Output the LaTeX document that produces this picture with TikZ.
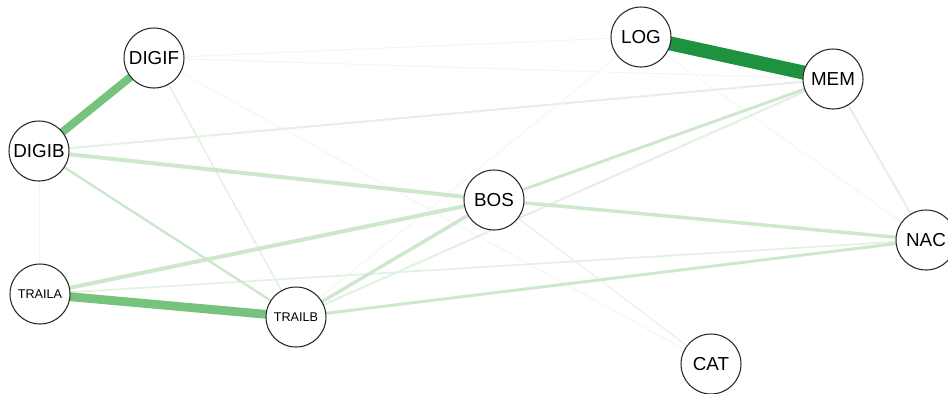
\documentclass[tikz,border=0pt]{standalone}
\usepackage{fontspec}
\setmainfont{Liberation Sans}
\usepackage{tikz}
\usetikzlibrary{backgrounds}

\definecolor{edgedark}{RGB}{31,146,64}
\definecolor{edgemid}{RGB}{118,195,126}
\definecolor{edgelight}{RGB}{206,232,206}
\definecolor{edgepale}{RGB}{226,241,226}
\definecolor{edgefaint}{RGB}{241,248,241}
\definecolor{edgeneg}{RGB}{244,232,236}

\begin{document}
\begin{tikzpicture}[
x=0.02cm, y=-0.02cm,
vertex/.style={circle, draw=black!85, line width=0.6pt, fill=white, minimum size=1.2cm, inner sep=0pt, font=\fontsize{10.7}{12}\selectfont},
smalltext/.style={font=\fontsize{7.2}{8}\selectfont},
strong/.style={edgedark, line width=8pt},
medium/.style={edgemid, line width=#1},
light/.style={edgelight, line width=#1},
pale/.style={edgepale, line width=#1},
faint/.style={edgefaint, line width=0.6pt},
neg/.style={edgeneg, line width=0.6pt}
]
\useasboundingbox (0,0) rectangle (948,393);

% nodes
\node[vertex] (digif) at (154,58) {DIGIF};
\node[vertex] (log) at (641,37) {LOG};
\node[vertex] (mem) at (833,79) {MEM};
\node[vertex] (digib) at (39,151) {DIGIB};
\node[vertex] (bos) at (494,200) {BOS};
\node[vertex] (nac) at (926,240) {NAC};
\node[vertex, smalltext] (traila) at (40,294) {TRAILA};
\node[vertex, smalltext] (trailb) at (296,317) {TRAILB};
\node[vertex] (cat) at (711,364) {CAT};

% edges
\begin{scope}[on background layer]
\draw[faint] (digif.center) -- (log.center);
\draw[faint] (digif.center) -- (mem.center);
\draw[faint] (digif.center) -- (cat.center);
\draw[faint] (log.center) -- (trailb.center);
\draw[faint] (log.center) -- (nac.center);
\draw[faint] (digib.center) -- (traila.center);
\draw[neg] (bos.center) -- (cat.center);
\draw[pale=0.85pt] (digif.center) -- (trailb.center);
\draw[pale=1pt] (traila.center) -- (nac.center);
\draw[pale=1.1pt] (digib.center) -- (mem.center);
\draw[pale=1.1pt] (mem.center) -- (nac.center);
\draw[pale=1.2pt] (trailb.center) -- (mem.center);
\draw[light=1.4pt] (digib.center) -- (trailb.center);
\draw[light=1.7pt] (trailb.center) -- (nac.center);
\draw[light=1.7pt] (bos.center) -- (mem.center);
\draw[light=2pt] (bos.center) -- (nac.center);
\draw[light=2pt] (trailb.center) -- (bos.center);
\draw[light=2.3pt] (traila.center) -- (bos.center);
\draw[light=2.3pt] (digib.center) -- (bos.center);
\draw[medium=4.6pt] (digif.center) -- (digib.center);
\draw[medium=5pt] (traila.center) -- (trailb.center);
\draw[strong] (log.center) -- (mem.center);
\end{scope}
\end{tikzpicture}
\end{document}
